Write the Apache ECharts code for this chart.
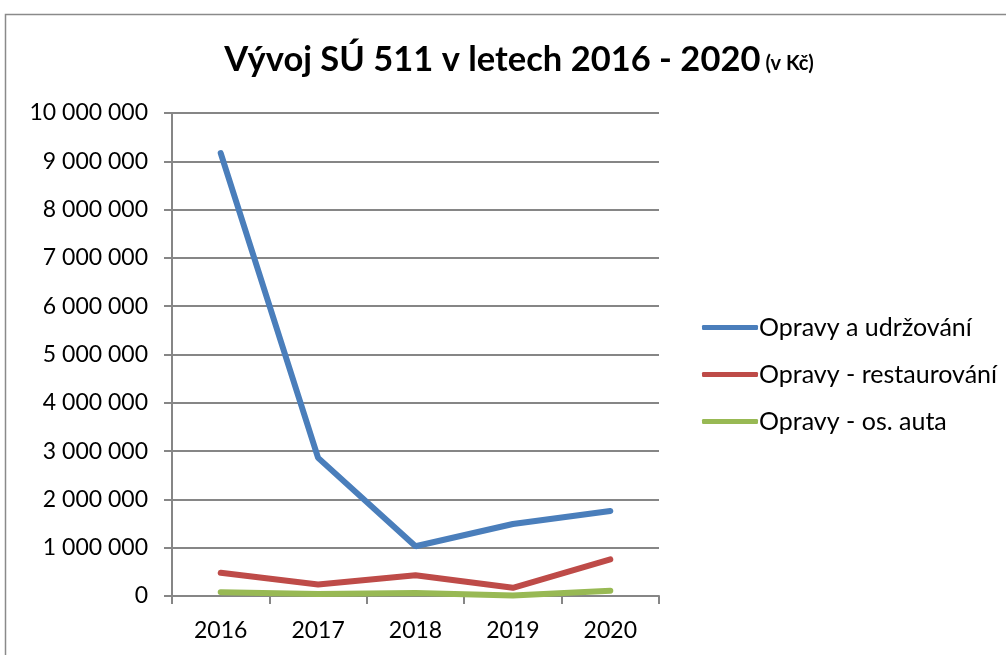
<!DOCTYPE html>
<html>
<head>
<meta charset="utf-8">
<script src="https://cdn.jsdelivr.net/npm/echarts@6/dist/echarts.min.js"></script>
<style>
  html, body { margin: 0; padding: 0; background: #fff; }
  #chart { width: 1006px; height: 655px; }
</style>
</head>
<body>
<div id="chart"></div>
<script>
// data
const years = ['2016', '2017', '2018', '2019', '2020'];
const opravyUdrzovani = [9170000, 2860000, 1030000, 1490000, 1760000];
const opravyRestaurovani = [480000, 240000, 430000, 170000, 760000];
const opravyAuta = [80000, 40000, 60000, 10000, 110000];
const seriesNames = ['Opravy a udržování', 'Opravy - restaurování', 'Opravy - os. auta'];

const font = 'Lato, "Open Sans", sans-serif';

function fmt(v) {
  return String(v).replace(/\B(?=(\d{3})+(?!\d))/g, ' ');
}

let chart = echarts.init(document.getElementById('chart'));
let option = {
  animation: false,
  graphic: [{
    type: 'rect',
    shape: { x: 5.5, y: 14.5, width: 1010, height: 660 },
    style: { fill: 'none', stroke: '#8a8a8a', lineWidth: 1.5 }
  }],
  title: {
    text: '{a|Vývoj SÚ 511 v letech 2016 - 2020} {b|(v Kč)}',
    left: 514,
    textAlign: 'center',
    top: 37,
    textStyle: {
      rich: {
        a: { fontFamily: font, fontSize: 34.5, fontWeight: 'bold', color: '#000' },
        b: { fontFamily: font, fontSize: 20, fontWeight: 'bold', color: '#000', padding: [8, 0, 0, 0] }
      }
    }
  },
  legend: {
    orient: 'vertical',
    left: 697,
    top: 310,
    itemWidth: 56,
    itemHeight: 5,
    itemGap: 22,
    icon: 'roundRect',
    textStyle: { fontFamily: font, fontSize: 25, color: '#000', padding: [0, 0, 0, -4] },
    data: seriesNames
  },
  grid: { left: 172, top: 113, right: 347, bottom: 59 },
  xAxis: {
    type: 'category',
    data: years,
    boundaryGap: true,
    axisLine: { lineStyle: { color: '#868686', width: 2 } },
    axisTick: { show: true, length: 8, lineStyle: { color: '#868686', width: 2 } },
    axisLabel: { fontFamily: font, fontSize: 23, color: '#000', margin: 23 }
  },
  yAxis: {
    type: 'value',
    min: 0,
    max: 10000000,
    interval: 1000000,
    axisLine: { show: true, lineStyle: { color: '#868686', width: 2 } },
    axisTick: { show: true, length: 8, lineStyle: { color: '#868686', width: 2 } },
    axisLabel: { fontFamily: font, fontSize: 23, color: '#000', margin: 24, formatter: fmt },
    splitLine: { lineStyle: { color: '#868686', width: 2 } }
  },
  series: [
    {
      name: seriesNames[0], type: 'line', data: opravyUdrzovani, symbol: 'none',
      color: '#4a7ebb', lineStyle: { width: 6, cap: 'round' }
    },
    {
      name: seriesNames[1], type: 'line', data: opravyRestaurovani, symbol: 'none',
      color: '#be4b48', lineStyle: { width: 6, cap: 'round' }
    },
    {
      name: seriesNames[2], type: 'line', data: opravyAuta, symbol: 'none',
      color: '#98b954', lineStyle: { width: 6, cap: 'round' }
    }
  ]
};
option && chart.setOption(option);
</script>
</body>
</html>
